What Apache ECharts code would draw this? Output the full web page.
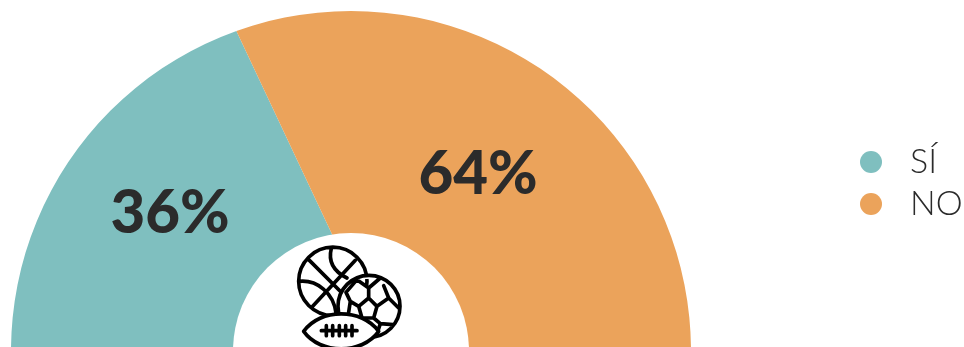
<!DOCTYPE html>
<html>
<head>
<meta charset="utf-8">
<style>
  html, body { margin: 0; padding: 0; background: #fff; }
  #chart { width: 964px; height: 347px; }
</style>
<script src="https://cdn.jsdelivr.net/npm/echarts@6/dist/echarts.min.js"></script>
</head>
<body>
<div id="chart"></div>
<script>
const categories = ['SÍ', 'NO']
const values = [36, 64]
const colors = ['#7fbfbf', '#eba35b']

// the slice border does not run through the ring centre in the original,
// so the slices sit on their own centre and the ring is cut out on top
const RING_CENTER = [351, 351]
const SLICE_CENTER = [387, 351]
const LABEL_POS = [[170, 214], [478, 175]]

const ringCut = (radius) => ({
  type: 'pie',
  center: RING_CENTER,
  radius,
  silent: true,
  animation: false,
  label: { show: false },
  labelLine: { show: false },
  itemStyle: { color: '#fff' },
  data: [{ value: 1, name: 'cut' }],
})

// icon paths in a 3x space, drawn back to front
const ICON_SHAPES = {
  iconBasketball: [
    'M20 115 A102 102 0 1 1 225 115 A102 102 0 1 1 20 115 Z',
    'M50 50 L165 165',
    'M190 52 L60 192',
    'M118 16 C108 55 125 85 165 105',
    'M22 115 C75 110 125 150 132 210',
  ],
  iconSoccer: [
    'M138 190 A93 93 0 1 1 324 190 A93 93 0 1 1 138 190 Z',
    'M230 165 L255 190 L245 225 L210 225 L200 190 Z',
    'M162 148 L175 175 L200 190',
    'M162 148 L195 110',
    'M195 110 L230 135 L265 105',
    'M230 135 L230 165',
    'M255 190 L290 165 L275 128',
    'M290 165 L320 195',
    'M245 225 L265 242 L303 245',
    'M265 242 L255 272',
    'M210 225 L218 262',
    'M175 175 L170 208',
  ],
  iconFootball: [
    'M35 265 C85 195 210 195 260 265 C210 335 85 335 35 265 Z',
    'M88 263 L195 263',
    'M103 248 L103 278',
    'M122 248 L122 278',
    'M142 248 L142 278',
    'M161 248 L161 278',
    'M180 248 L180 278',
  ],
}

Object.keys(ICON_SHAPES).forEach((name) => {
  echarts.graphic.registerShape(name, echarts.graphic.extendPath(ICON_SHAPES[name].join(' ')))
})

const chart = echarts.init(document.getElementById('chart'))

chart.setOption({
  backgroundColor: '#fff',
  animation: false,
  legend: {
    z: 10,
    orient: 'vertical',
    left: 855,
    top: 140,
    icon: 'circle',
    itemWidth: 22,
    itemHeight: 22,
    itemGap: 8,
    data: categories,
    textStyle: {
      color: '#2b2b2b',
      fontSize: 34,
      fontFamily: 'Lato',
      fontWeight: 300,
      padding: [0, 0, 0, 23],
    },
  },
  series: [
    {
      type: 'pie',
      center: SLICE_CENTER,
      radius: [0, 380],
      startAngle: 180,
      endAngle: 0,
      clockwise: true,
      animation: false,
      silent: true,
      label: { show: false },
      labelLine: { show: false },
      data: categories.map((name, i) => ({
        name,
        value: values[i],
        itemStyle: { color: colors[i] },
      })),
    },
    ringCut([340, 800]),
    ringCut([0, 118]),
  ],
  graphic: [
    ...values.map((v, i) => ({
      type: 'text',
      z: 20,
      x: LABEL_POS[i][0],
      y: LABEL_POS[i][1],
      style: {
        text: v + '%',
        fill: '#2b2b2b',
        font: '900 60px Lato',
        textAlign: 'center',
        textVerticalAlign: 'middle',
      },
    })),
    ...Object.keys(ICON_SHAPES).map((name, i) => ({
      type: name,
      z: 20 + i,
      x: 292,
      y: 243,
      scaleX: 1 / 3,
      scaleY: 1 / 3,
      style: {
        fill: name === 'iconBasketball' ? 'none' : '#fff',
        stroke: '#000',
        lineWidth: 11,
        lineJoin: 'round',
        lineCap: 'round',
      },
    })),
  ],
})

window.addEventListener('resize', () => chart.resize())
</script>
</body>
</html>
